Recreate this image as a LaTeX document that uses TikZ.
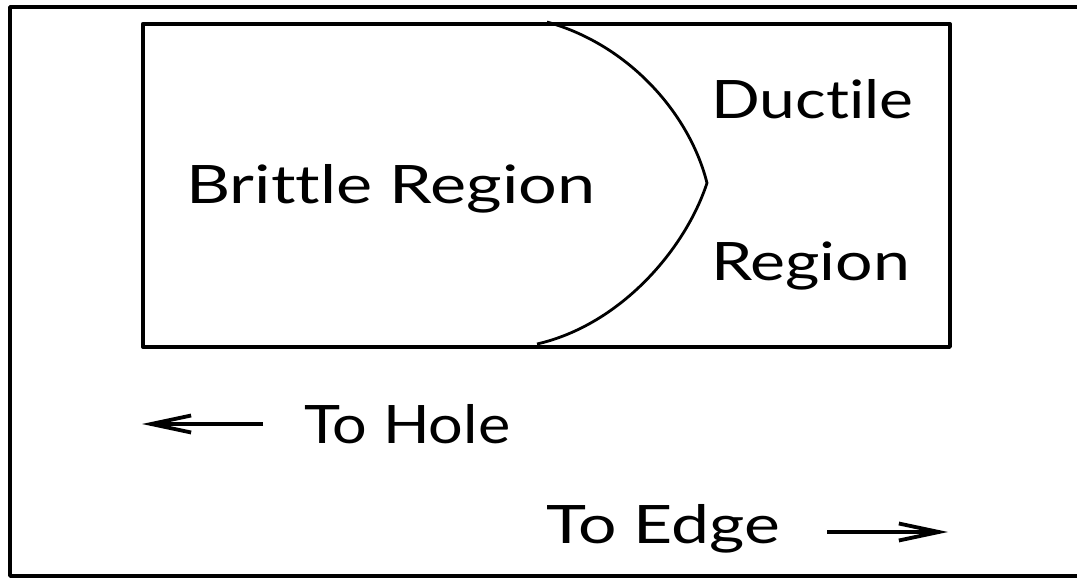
\documentclass[tikz,border=0pt]{standalone}
\usepackage{fontspec}
\setmainfont{Lato}[Ligatures={NoCommon}]
\usetikzlibrary{arrows.meta}
\newcommand{\fitw}[2]{\resizebox{#1}{\height}{\fontsize{53}{53}\selectfont #2}}
\tikzset{
  frame/.style={line width=3.8pt, line cap=round, line join=round},
  curve/.style={line width=2.8pt},
  lbl/.style={anchor=base west, inner sep=0pt},
  dirarrow/.style={line width=3.8pt, -{Straight Barb[length=40pt,width=17pt,line width=3.8pt]}}
}
\begin{document}
\begin{tikzpicture}[x=1pt,y=-1pt]
\useasboundingbox (0,0) rectangle (1077,578);
% outer frame
\coordinate (otr) at (1077,7);
\coordinate (otl) at (10,7);
\coordinate (obl) at (10,576);
\coordinate (obr) at (1077,576);
\draw[frame] (otr) -- (otl) -- (obl) -- (obr);
% inner box
\node[draw, frame, minimum width=807pt, minimum height=323pt, inner sep=0pt, anchor=north west] (box) at (141,22) {};
% boundary curve
\coordinate (ctop) at (547,22);
\coordinate (ctip) at (707,183);
\coordinate (cbot) at (537,344);
\draw[curve] (ctop) .. controls (630,45) and (690,115) .. (ctip)
             .. controls (685,250) and (620,325) .. (cbot);
% labels
\node[lbl] (brittle) at (186,203) {\fitw{409pt}{Brittle Region}};
\node[lbl] (ductile) at (711,118) {\fitw{202pt}{Ductile}};
\node[lbl] (region) at (711,280) {\fitw{199pt}{Region}};
\node[lbl] (hole) at (304,443) {\fitw{206pt}{To Hole}};
\node[lbl] (edge) at (546,543) {\fitw{234pt}{To Edge}};
% arrows
\coordinate (hs) at (263,424);
\coordinate (he) at (142,424);
\draw[dirarrow] (hs) -- (he);
\coordinate (es) at (827,532);
\coordinate (ee) at (948,532);
\draw[dirarrow] (es) -- (ee);
\end{tikzpicture}
\end{document}
